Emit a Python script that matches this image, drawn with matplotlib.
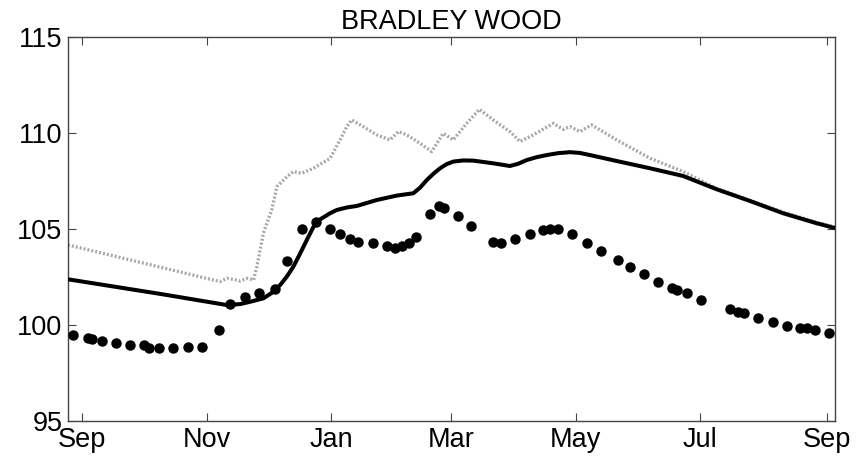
import matplotlib
matplotlib.use("Agg")
import matplotlib.pyplot as plt

# Days since 1 Sep
tick_days = [0, 61, 122, 181, 242, 303, 365]
tick_labels = ["Sep", "Nov", "Jan", "Mar", "May", "Jul", "Sep"]
y_ticks = [95, 100, 105, 110, 115]

obs_days = [-4.6, 2.6, 4.7, 9.6, 16.5, 23.5, 30.4, 32.8, 37.7, 44.4, 51.6, 58.6,
            66.8, 72.5, 79.9, 86.7, 94.6, 100.6, 107.5, 114.4, 121.5, 126.4, 131.3,
            135.4, 142.4, 149.3, 153.4, 156.6, 160.4, 163.5, 170.5, 175.1, 177.5,
            184.4, 190.4, 201.2, 205.3, 212.2, 219.5, 226.0, 229.3, 233.4, 240.3,
            247.6, 254.3, 262.5, 268.5, 275.5, 282.4, 288.9, 291.4, 296.3, 303.3,
            317.5, 321.6, 324.5, 331.4, 338.4, 345.3, 352.1, 355.1, 359.1, 366.1]
obs_vals = [99.48, 99.31, 99.27, 99.18, 99.05, 98.94, 98.97, 98.82, 98.82, 98.82, 98.84, 98.85,
            99.72, 101.07, 101.48, 101.65, 101.88, 103.32, 105.0, 105.38, 105.0, 104.72, 104.46,
            104.34, 104.25, 104.11, 104.03, 104.11, 104.25, 104.57, 105.78, 106.2, 106.11,
            105.68, 105.16, 104.34, 104.29, 104.46, 104.74, 104.95, 105.0, 105.0, 104.74,
            104.29, 103.87, 103.39, 103.04, 102.66, 102.26, 101.91, 101.82, 101.65, 101.30,
            100.82, 100.70, 100.61, 100.38, 100.17, 99.96, 99.82, 99.82, 99.74, 99.60]

sim_days = [-7, 38.2, 70.9, 77.4, 82.3, 88.8, 93, 97, 100.3, 103.5, 106.8, 110.1, 113.3, 116.6,
            121.5, 124.8, 129.7, 134.6, 144.4, 154.2, 162.3, 165.6, 168.9, 172.2, 175.4, 178.7,
            181.9, 186.8, 191.7, 201.5, 209.7, 213.8, 217.9, 222.8, 227.7, 233.4, 239.1, 244,
            248.9, 262, 278.4, 294.6, 311, 327.3, 343.6, 360, 369]
sim_vals = [102.38, 101.62, 101.04, 101.09, 101.21, 101.39, 101.68, 102.08, 102.52, 103.04, 103.72,
            104.43, 105.1, 105.5, 105.82, 105.99, 106.12, 106.2, 106.51, 106.74, 106.86, 107.15,
            107.55, 107.88, 108.16, 108.38, 108.51, 108.57, 108.56, 108.42, 108.28, 108.4, 108.59,
            108.74, 108.85, 108.95, 109.0, 108.96, 108.85, 108.54, 108.16, 107.76, 107.07, 106.46,
            105.82, 105.3, 105.05]

up_days = [-7, 67.6, 70.9, 74, 77.4, 80.7, 84, 85.6, 88.8, 92.9, 95.4, 100.3, 103.5, 107.6,
           113.3, 121.5, 126.4, 129.7, 132.1, 137.8, 144.4, 150.9, 155, 159.1, 165.6, 171.3,
           177, 181.9, 188.5, 194.7, 201.5, 209.7, 214.6, 221.1, 230.9, 235.8, 239.1, 244,
           249.7, 262, 278.4, 294.6, 311, 327.3, 343.6, 360, 369]
up_vals = [104.17, 102.26, 102.43, 102.38, 102.29, 102.43, 102.34, 103.04, 104.78, 105.99, 107.2,
           107.72, 107.99, 107.9, 108.16, 108.68, 109.64, 110.33, 110.68, 110.33, 109.9, 109.64,
           110.07, 109.9, 109.46, 109.03, 109.98, 109.64, 110.5, 111.23, 110.68, 110.07, 109.55,
           109.9, 110.5, 110.19, 110.33, 110.07, 110.42, 109.64, 108.68, 107.99, 107.12, 106.5,
           105.88, 105.35, 105.1]

plt.rcParams['font.family'] = ['Liberation Sans', 'DejaVu Sans']

fig = plt.figure(figsize=(8.67, 4.62), dpi=100)
ax = fig.add_axes([0.0784, 0.0887, 0.8846, 0.8313])

ax.plot(up_days, up_vals, color='#a8a8a8', lw=2.4, linestyle=(0, (0.6, 0.6)), zorder=2)
ax.plot(sim_days, sim_vals, color='black', lw=2.9, solid_joinstyle='round',
        solid_capstyle='round', zorder=3)
ax.plot(obs_days, obs_vals, 'o', color='black', markersize=6.5, zorder=4)

ax.set_xlim(-7, 369)
ax.set_ylim(95, 115)
ax.set_xticks(tick_days)
ax.set_xticklabels(tick_labels)
ax.set_yticks(y_ticks)
ax.tick_params(direction='in', length=5.5, width=0.8, color='#444444',
               top=True, right=True, labelsize=19.5, labelcolor='black')
ax.tick_params(axis='x', pad=4)
ax.tick_params(axis='y', pad=4)
for s in ax.spines.values():
    s.set_color('#444444')
    s.set_linewidth(1.0)
ax.set_title("BRADLEY WOOD", fontsize=19.5, pad=6)

fig.savefig("out.png", dpi=100)
